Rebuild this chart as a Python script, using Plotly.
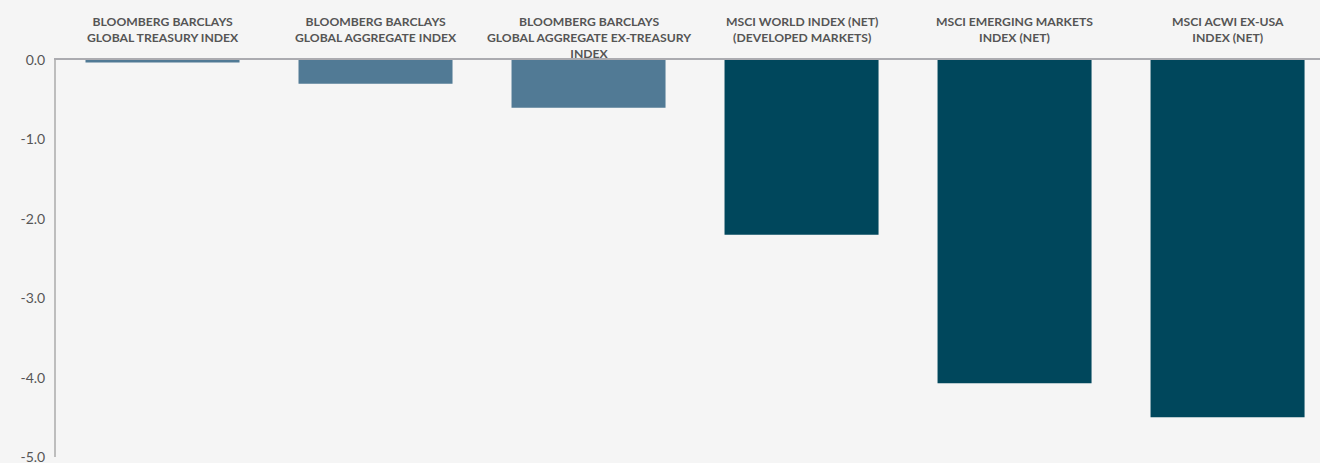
import plotly.graph_objects as go

categories = [
    "BLOOMBERG BARCLAYS<br>GLOBAL TREASURY INDEX",
    "BLOOMBERG BARCLAYS<br>GLOBAL AGGREGATE INDEX",
    "BLOOMBERG BARCLAYS<br>GLOBAL AGGREGATE EX-TREASURY<br>INDEX",
    "MSCI WORLD INDEX (NET)<br>(DEVELOPED MARKETS)",
    "MSCI EMERGING MARKETS<br>INDEX (NET)",
    "MSCI ACWI EX-USA<br>INDEX (NET)",
]
values = [-0.03, -0.3, -0.6, -2.2, -4.07, -4.5]
y_ticks = [0, -1, -2, -3, -4, -5]
y_tick_labels = ["0.0", "-1.0", "-2.0", "-3.0", "-4.0", "-5.0"]

bar_colors = ["#517A95", "#517A95", "#517A95", "#00475C", "#00475C", "#00475C"]

x_idx = list(range(len(categories)))

fig = go.Figure()
fig.add_trace(go.Bar(
    x=x_idx, y=values, marker=dict(color=bar_colors, line=dict(width=0)),
    hoverinfo="skip",
))

for i, lab in zip(x_idx, categories):
    fig.add_annotation(
        x=i, xref="x", y=1, yref="paper", yanchor="top", yshift=48,
        text="<b>" + lab + "</b>", showarrow=False, align="center",
        font=dict(family="Lato", size=12.2, color="#555555"),
    )

fig.update_layout(
    width=1320, height=463,
    margin=dict(l=56, r=0, t=60, b=6),
    paper_bgcolor="#F5F5F5", plot_bgcolor="#F5F5F5",
    bargap=0.277, showlegend=False,
    font=dict(family="Lato", color="#555555"),
)
fig.update_xaxes(
    range=[-0.5, 5.434], side="top", showticklabels=False, showgrid=False,
    zeroline=False, showline=True, linecolor="#ABABB0", linewidth=2, ticks="",
)
fig.update_yaxes(
    range=[-5.0, 0], tickvals=y_ticks, ticktext=y_tick_labels, showgrid=False,
    zeroline=False, showline=True, linecolor="#BDBDBD", linewidth=2, ticks="",
    tickfont=dict(family="Lato", size=14, color="#555555"), ticklabelstandoff=6,
    automargin=False, ticklabeloverflow="allow",
)

fig.write_html("out.html")
